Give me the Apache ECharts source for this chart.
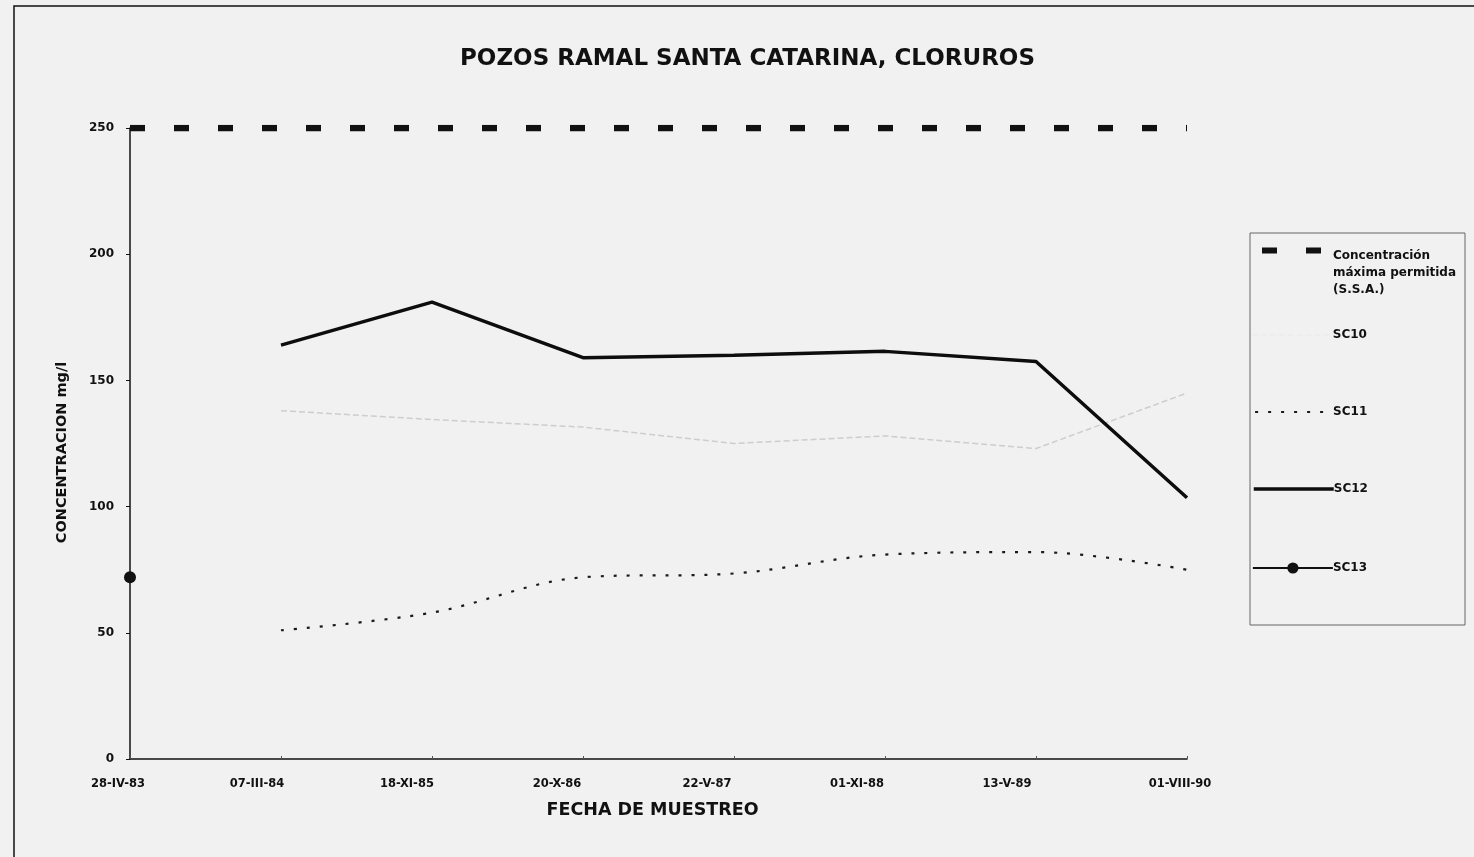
<!DOCTYPE html>
<html>
<head>
<meta charset="utf-8">
<script src="https://cdn.jsdelivr.net/npm/echarts@6/dist/echarts.min.js"></script>
<style>
  html, body { margin: 0; padding: 0; background: #f1f1f1; }
  #chart { width: 1474px; height: 857px; }
</style>
</head>
<body>
<div id="chart"></div>
<script>
// Sampling dates (category axis)
const fechas = ['28-IV-83', '07-III-84', '18-XI-85', '20-X-86', '22-V-87', '01-XI-88', '13-V-89', '01-VIII-90'];

// Chloride concentration per well, mg/l
const limiteSSA = [250, 250, 250, 250, 250, 250, 250, 250];
const sc10 = [null, 138, 134.5, 131.5, 125, 128, 123, 145];
const sc11 = [null, 51, 58, 72, 73.5, 81, 82, 75];
const sc12 = [null, 164, 181, 159, 160, 161.5, 157.5, 103.5];
const sc13 = [72, null, null, null, null, null, null, null];

// Y-axis ticks
const yTicks = [0, 50, 100, 150, 200, 250];

const NAME_LIMITE = 'Concentración máxima permitida (S.S.A.)';

// Horizontal nudge of each date label (px, negative = left)
const labelShift = [-12, -24, -25, -26, -27, -28, -29, -7];

const FONT = "'DejaVu Sans', 'Liberation Sans', Arial, sans-serif";

const rich = {};
labelShift.forEach((s, i) => {
  rich['s' + i] = {
    fontFamily: FONT, fontWeight: 'bold', fontSize: 11.5, color: '#111',
    padding: s < 0 ? [0, -2 * s, 0, 0] : [0, 0, 0, 2 * s]
  };
});

const chart = echarts.init(document.getElementById('chart'), null, { renderer: 'canvas' });

const legendText = { fontFamily: FONT, fontWeight: 'bold', fontSize: 12, color: '#111', padding: [0, 0, 0, -5] };

function legendAt(name, top, lineWidth, extra) {
  return Object.assign({
    show: true,
    data: [name],
    left: 1252,
    top: top,
    itemWidth: 80,
    itemHeight: 14,
    itemGap: 0,
    selectedMode: false,
    padding: 0,
    itemStyle: { opacity: 0 },
    lineStyle: { width: lineWidth },
    textStyle: legendText
  }, extra || {});
}

chart.setOption({
  backgroundColor: '#f1f1f1',
  animation: false,
  title: {
    text: 'POZOS RAMAL SANTA CATARINA, CLORUROS',
    left: 455,
    top: 43,
    textStyle: { fontFamily: FONT, fontWeight: 'bold', fontSize: 23, color: '#111' }
  },
  grid: { left: 130, right: 287, top: 128, bottom: 98 },
  xAxis: {
    type: 'category',
    data: fechas,
    boundaryGap: false,
    name: 'FECHA DE MUESTREO',
    nameLocation: 'middle',
    nameGap: 51,
    nameTextStyle: {
      fontFamily: FONT, fontWeight: 'bold', fontSize: 17.5, color: '#111',
      verticalAlign: 'middle', padding: [0, 12, 0, 0]
    },
    axisLine: { lineStyle: { color: '#111', width: 1.5 } },
    axisTick: { show: true, inside: true, length: 3, lineStyle: { color: '#555' } },
    axisLabel: {
      margin: 19,
      interval: 0,
      formatter: (v, i) => '{s' + i + '|' + v + '}',
      rich: rich
    },
    splitLine: { show: false }
  },
  yAxis: {
    type: 'value',
    min: yTicks[0],
    max: yTicks[yTicks.length - 1],
    interval: yTicks[1] - yTicks[0],
    name: 'CONCENTRACION mg/l',
    nameLocation: 'middle',
    nameGap: 60,
    nameTextStyle: { fontFamily: FONT, fontWeight: 'bold', fontSize: 14.5, color: '#111', padding: [0, 18, 0, 0] },
    axisLine: { show: true, lineStyle: { color: '#111', width: 1.5 } },
    axisTick: { show: true, length: 4, lineStyle: { color: '#111' } },
    axisLabel: { margin: 16, fontFamily: FONT, fontWeight: 'bold', fontSize: 12, color: '#111' },
    splitLine: { show: false }
  },
  legend: [
    legendAt(NAME_LIMITE, 219, 6, {
      lineStyle: { width: 6, dashOffset: 37 },
      formatter: () => '{gap| }\n{t|Concentración}\n{t|máxima permitida}\n{t|(S.S.A.)}',
      textStyle: Object.assign({}, legendText, {
        padding: [0, 0, 0, -7],
        rich: {
          gap: { lineHeight: 44, fontSize: 12 },
          t: { fontFamily: FONT, fontWeight: 'bold', fontSize: 12, color: '#111', lineHeight: 17 }
        }
      })
    }),
    legendAt('SC10', 329, 1.5, { lineStyle: { width: 1.5, opacity: 0.15 } }),
    legendAt('SC11', 406, 2.2),
    legendAt('SC12', 483, 3.5),
    legendAt('SC13', 562, 1.8, { itemStyle: { opacity: 1 } })
  ],
  graphic: [
    {
      type: 'rect', silent: true, z: -1,
      shape: { x: 14, y: 6, width: 1500, height: 900 },
      style: { fill: 'none', stroke: '#111', lineWidth: 1.5 }
    },
    {
      type: 'rect', silent: true, z: -1,
      shape: { x: 1250, y: 233, width: 215, height: 392 },
      style: { fill: 'none', stroke: '#666', lineWidth: 1 }
    }
  ],
  series: [
    {
      name: NAME_LIMITE,
      type: 'line',
      data: limiteSSA,
      symbol: 'none',
      lineStyle: { color: '#111', width: 6.5, type: [15, 29], cap: 'butt' },
      itemStyle: { color: '#111' },
      z: 5
    },
    {
      name: 'SC10',
      type: 'line',
      data: sc10,
      symbol: 'none',
      lineStyle: { color: '#cdcdcd', width: 1.5, type: [6, 3] },
      itemStyle: { color: '#e6e6e6' }
    },
    {
      name: 'SC11',
      type: 'line',
      data: sc11,
      smooth: 0.35,
      symbol: 'none',
      lineStyle: { color: '#1a1a1a', width: 2.2, type: [3, 10] },
      itemStyle: { color: '#1a1a1a' }
    },
    {
      name: 'SC12',
      type: 'line',
      data: sc12,
      symbol: 'none',
      lineStyle: { color: '#0d0d0d', width: 3.5 },
      itemStyle: { color: '#0d0d0d' }
    },
    {
      name: 'SC13',
      type: 'line',
      data: sc13,
      symbol: 'circle',
      symbolSize: 12,
      showAllSymbol: true,
      lineStyle: { color: '#111', width: 1.5 },
      itemStyle: { color: '#111' },
      z: 6
    }
  ]
});
</script>
</body>
</html>
